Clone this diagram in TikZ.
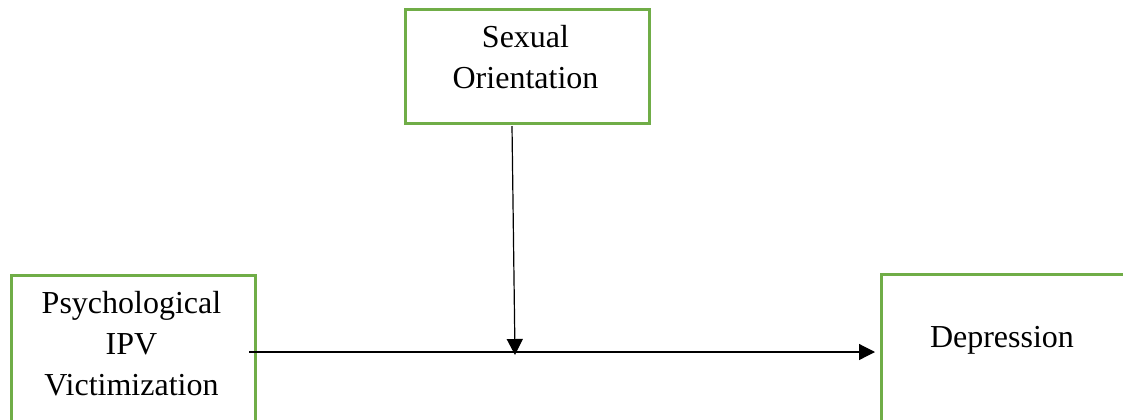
\documentclass[tikz,border=0pt]{standalone}
\usepackage{fontspec}
\setmainfont{Liberation Serif}
\usetikzlibrary{arrows.meta}
\definecolor{boxgreen}{HTML}{70AD47}
\begin{document}
\begin{tikzpicture}[x=0.75pt,y=-0.75pt,
  boxstyle/.style={draw=boxgreen,line width=2.25pt,rectangle,inner sep=0pt,anchor=north west,minimum width=244*0.75pt},
  label/.style={anchor=base,align=center,inner sep=0pt,font=\fontsize{24}{30.5}\selectfont},
  arr/.style={line width=0.9pt,-{Triangle[length=12pt,width=12pt]}}]
\clip (0,0) rectangle (1123,419);
\node[boxstyle,minimum height=114.5*0.75pt] (sexual) at (403.5,7.5) {};
\node[boxstyle,minimum height=200*0.75pt] (psych) at (9.5,274) {};
\node[boxstyle,minimum height=200*0.75pt] (depr) at (880,273) {};
\node[label] (sexualtxt) at (525.5,88) {Sexual\\Orientation};
\node[label] (psychtxt) at (131.5,395) {Psychological\\IPV\\Victimization};
\node[label] (deprtxt) at (1002,347) {Depression};
\coordinate (hstart) at (249,352);
\coordinate (hend) at (875,352);
\coordinate (vstart) at (512,126);
\coordinate (vend) at (515,355);
\draw[arr] (hstart) -- (hend);
\draw[arr] (vstart) -- (vend);
\end{tikzpicture}
\end{document}
